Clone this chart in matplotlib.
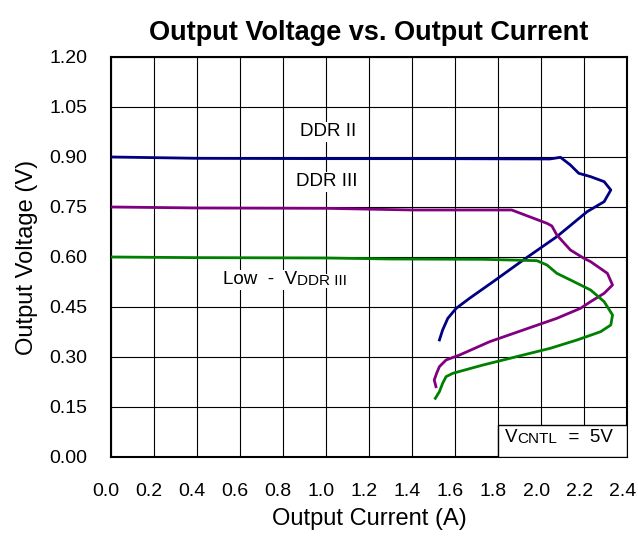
import matplotlib
matplotlib.use("Agg")
import matplotlib.pyplot as plt
from matplotlib.patches import Rectangle
from matplotlib.transforms import ScaledTranslation

plt.rcParams['font.family'] = ['Liberation Sans', 'DejaVu Sans']

# Data (Output Current A, Output Voltage V)
ddr2_x = [0.0, 0.4, 1.0, 1.5, 2.04, 2.09, 2.136, 2.175, 2.23, 2.293, 2.324, 2.293, 2.214,
          2.073, 1.917, 1.777, 1.667, 1.605, 1.566, 1.542, 1.527]
ddr2_y = [0.900, 0.896, 0.895, 0.895, 0.894, 0.899, 0.876, 0.851, 0.841, 0.826, 0.801, 0.766, 0.736,
          0.661, 0.591, 0.526, 0.476, 0.446, 0.416, 0.381, 0.351]

ddr3_x = [0.0, 0.4, 1.0, 1.4, 1.863, 2.027, 2.05, 2.073, 2.136, 2.199, 2.23, 2.308, 2.332, 2.293,
          2.23, 2.183, 2.073, 1.917, 1.761, 1.621, 1.558, 1.527, 1.514, 1.503, 1.511]
ddr3_y = [0.750, 0.747, 0.746, 0.741, 0.741, 0.701, 0.693, 0.666, 0.621, 0.596, 0.586, 0.551, 0.516, 0.491,
          0.466, 0.446, 0.416, 0.381, 0.346, 0.306, 0.291, 0.271, 0.251, 0.231, 0.211]

low_x = [0.0, 0.4, 1.0, 1.3, 1.73, 1.98, 2.027, 2.073, 2.152, 2.23, 2.293, 2.332, 2.324, 2.277,
         2.167, 2.042, 1.886, 1.730, 1.589, 1.558, 1.542, 1.527, 1.508]
low_y = [0.600, 0.598, 0.597, 0.594, 0.593, 0.589, 0.576, 0.551, 0.526, 0.501, 0.466, 0.426, 0.396, 0.376,
         0.351, 0.326, 0.301, 0.276, 0.251, 0.241, 0.221, 0.196, 0.176]

x_ticks = [0.0, 0.2, 0.4, 0.6, 0.8, 1.0, 1.2, 1.4, 1.6, 1.8, 2.0, 2.2, 2.4]
y_ticks = [0.00, 0.15, 0.30, 0.45, 0.60, 0.75, 0.90, 1.05, 1.20]

fig = plt.figure(figsize=(6.38, 5.36), dpi=100)
ax = fig.add_axes([0.174, 0.1474, 0.809, 0.7463])

ax.plot(ddr2_x, ddr2_y, color='#000080', lw=2.0, zorder=3)
ax.plot(ddr3_x, ddr3_y, color='#800080', lw=2.0, zorder=3)
ax.plot(low_x, low_y, color='#008000', lw=2.0, zorder=3)

ax.set_xlim(0, 2.4)
ax.set_ylim(0, 1.2)
ax.set_xticks(x_ticks)
ax.set_yticks(y_ticks)
ax.set_xticklabels([f"{v:.1f}" for v in x_ticks])
ax.set_yticklabels([f"{v:.2f}" for v in y_ticks])
ax.tick_params(axis='both', length=0, labelsize=14)
ax.tick_params(axis='y', pad=17)
ax.tick_params(axis='x', pad=18.5)
shift = ScaledTranslation(-5 / 100, 0, fig.dpi_scale_trans)
for lbl in ax.get_xticklabels():
    lbl.set_transform(lbl.get_transform() + shift)
ax.grid(True, color='black', lw=0.8)
ax.set_axisbelow(True)
for s in ax.spines.values():
    s.set_linewidth(1.5)

ax.set_title("Output Voltage vs. Output Current", fontsize=19.5, fontweight='bold', pad=12)
ax.set_xlabel("Output Current (A)", fontsize=17, labelpad=6)
ax.set_ylabel("Output Voltage (V)", fontsize=17, labelpad=8)

bb = dict(facecolor='white', edgecolor='none', pad=1)
ax.text(1.008, 0.975, "DDR II", fontsize=13.5, ha='center', va='center', bbox=bb, zorder=4)
ax.text(1.003, 0.825, "DDR III", fontsize=13.5, ha='center', va='center', bbox=bb, zorder=4)

t1 = ax.text(0.521, 0.531, "Low  -  V", fontsize=13.5, ha='left', va='center', bbox=bb, zorder=4)
ax.annotate("DDR III", xy=(1, 0), xycoords=t1, fontsize=11, ha='left', va='bottom', zorder=4,
            bbox=dict(facecolor='white', edgecolor='none', pad=0))

t2 = ax.text(1.833, 0.058, "V", fontsize=13.5, ha='left', va='center', zorder=5)
t3 = ax.annotate("CNTL", xy=(1, 0), xycoords=t2, fontsize=11, ha='left', va='bottom', zorder=5)
ax.annotate("  =  5V", xy=(1, 0), xycoords=t3, fontsize=13.5, ha='left', va='bottom', zorder=5)
ax.add_patch(Rectangle((1.8, 0.0), 0.6, 0.096, facecolor='white', edgecolor='black', lw=1.0, zorder=4))

fig.savefig("out.png", dpi=100)
